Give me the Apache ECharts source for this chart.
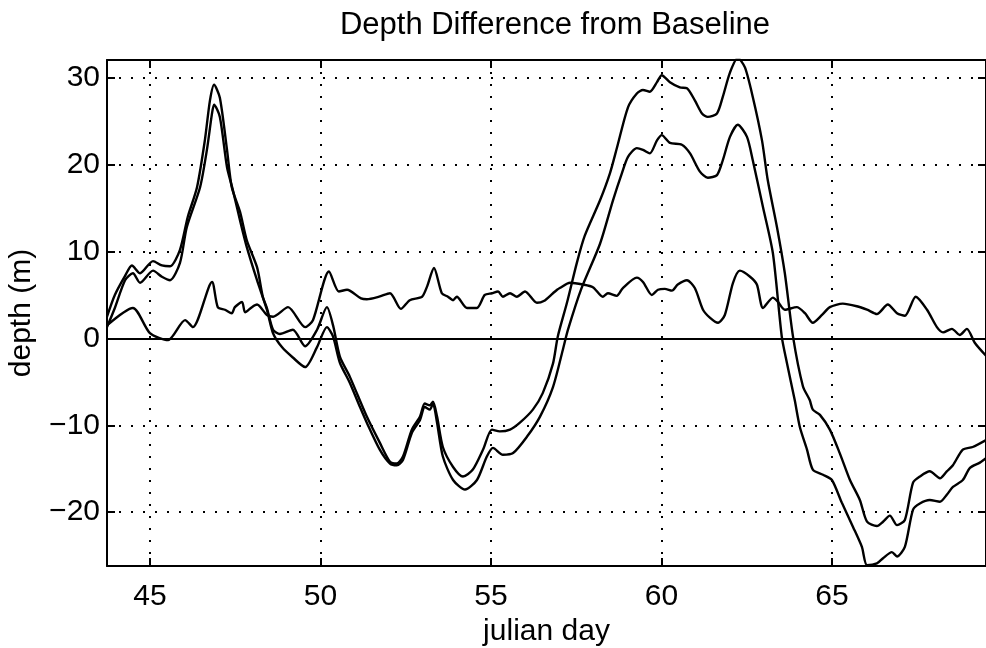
<!DOCTYPE html>
<html><head><meta charset="utf-8">
<script src="https://cdn.jsdelivr.net/npm/echarts@6/dist/echarts.min.js"></script>
<style>html,body{margin:0;padding:0;background:#fff}#c{width:986px;height:648px}</style>
</head><body><div id="c"></div>
<script>
// Series A (upper of the two large curves)
const dayA=[43.74,43.97,44.27,44.47,44.71,45.09,45.35,45.59,45.88,46.11,46.38,46.61,46.76,46.88,47.05,47.26,47.40,47.64,47.84,48.14,48.31,48.43,48.61,48.81,49.19,49.55,49.90,50.19,50.37,50.57,50.86,51.36,51.74,52.04,52.24,52.42,52.68,52.92,53.06,53.21,53.30,53.42,53.59,53.89,54.18,54.47,54.77,55.03,55.26,55.56,55.85,56.23,56.52,56.82,56.96,57.23,57.52,57.75,58.20,58.49,58.70,59.02,59.28,59.46,59.66,59.87,60.01,60.25,60.54,60.75,60.98,61.19,61.36,61.63,61.80,62.01,62.24,62.45,62.68,62.95,63.12,63.39,63.62,63.86,64.15,64.35,64.44,64.65,64.94,65.23,65.53,65.82,66.03,66.32,66.50,66.70,66.91,67.14,67.38,67.58,67.87,68.17,68.37,68.55,68.84,69.13,69.52];
const depthA=[2.5,5.0,7.2,8.4,7.5,8.9,8.4,8.3,10.2,14.0,17.4,22.8,27.4,29.2,27.7,21.7,17.4,14.6,11.3,8.2,4.8,3.5,1.0,0.5,1.0,-0.9,1.0,3.6,1.5,-2.1,-4.4,-9.0,-12.0,-14.2,-14.4,-13.6,-10.5,-9.0,-7.5,-7.7,-7.3,-9.0,-12.5,-14.8,-15.9,-15.1,-12.8,-10.5,-10.7,-10.5,-9.7,-8.2,-6.3,-2.9,0.2,4.1,8.7,11.8,15.9,19.0,22.0,26.6,28.2,28.6,28.4,29.5,30.3,29.5,28.9,28.8,27.4,25.9,25.5,25.9,27.8,30.6,32.3,31.2,27.8,22.8,18.2,12.8,7.5,0.2,-5.5,-7.1,-8.2,-8.8,-10.5,-13.2,-16.3,-18.6,-21.1,-21.6,-21.1,-20.4,-21.5,-20.9,-16.6,-15.9,-15.3,-16.1,-15.3,-14.6,-12.8,-12.5,-11.7];
// Series B (lower of the two large curves)
const dayB=[43.74,43.97,44.27,44.50,44.71,45.09,45.35,45.59,45.88,46.08,46.47,46.67,46.82,46.88,47.05,47.26,47.43,47.64,47.84,48.14,48.43,48.61,48.87,49.19,49.55,49.90,50.19,50.37,50.57,50.86,51.16,51.36,51.74,52.04,52.24,52.42,52.68,52.92,53.06,53.21,53.30,53.42,53.59,53.89,54.24,54.59,54.88,55.06,55.35,55.65,56.06,56.44,56.82,57.11,57.26,57.65,58.20,58.58,58.84,59.02,59.28,59.46,59.66,59.87,60.01,60.25,60.60,60.84,61.13,61.36,61.63,61.80,62.01,62.24,62.51,62.68,62.98,63.27,63.53,63.68,63.91,64.06,64.27,64.44,64.74,65.00,65.29,65.62,65.88,66.03,66.32,66.50,66.76,66.91,67.14,67.38,67.58,67.87,68.17,68.37,68.55,68.84,69.05,69.34,69.52];
const depthB=[1.3,3.5,6.7,7.5,6.4,7.8,7.1,6.7,8.7,12.8,17.4,21.7,25.9,26.9,25.5,19.7,17.1,13.6,10.5,6.7,3.3,0.6,-1.0,-2.2,-3.3,-1.0,1.3,0.2,-2.8,-5.1,-7.9,-9.7,-12.8,-14.4,-14.6,-14.0,-10.9,-9.4,-7.9,-8.2,-7.5,-9.7,-13.6,-16.3,-17.4,-16.3,-13.6,-12.6,-13.4,-13.2,-11.3,-9.0,-5.6,-1.3,1.0,5.7,10.9,15.9,19.0,20.9,21.9,21.7,21.3,22.8,23.4,22.5,22.3,21.3,19.2,18.5,18.8,20.5,23.2,24.6,23.2,20.5,15.1,9.8,0.2,-2.8,-7.1,-10.2,-12.8,-15.1,-15.7,-16.3,-18.9,-21.7,-24.0,-26.1,-25.9,-25.3,-24.6,-25.1,-24.0,-19.7,-19.0,-18.6,-18.8,-18.0,-17.1,-16.3,-14.9,-14.3,-13.8];
// Series C (small curve near zero)
const dayC=[43.74,44.50,45.00,45.53,46.03,46.26,46.82,46.99,47.20,47.40,47.49,47.70,47.79,47.99,48.14,48.43,48.61,49.05,49.55,49.78,50.25,50.54,50.78,51.19,51.36,51.72,52.04,52.36,52.62,52.98,53.12,53.33,53.56,53.74,53.89,54.00,54.30,54.59,54.82,55.03,55.21,55.35,55.56,55.76,56.00,56.35,56.55,56.82,56.94,57.02,57.32,57.70,57.99,58.28,58.43,58.69,58.87,59.28,59.46,59.72,59.90,60.10,60.31,60.48,60.75,60.98,61.22,61.42,61.66,61.86,62.10,62.30,62.60,62.80,62.98,63.27,63.42,63.62,63.97,64.21,64.44,64.71,64.94,65.32,65.73,66.03,66.32,66.64,66.91,67.14,67.46,67.79,68.08,68.26,68.52,68.75,68.96,69.19,69.52];
const depthC=[1.5,3.5,0.6,-0.2,2.1,1.3,6.5,3.6,3.3,2.9,3.6,4.2,3.0,3.6,3.9,2.7,2.5,3.6,1.3,2.1,7.7,5.4,5.6,4.6,4.5,4.8,5.2,3.4,4.4,4.8,5.9,8.1,5.2,4.8,4.4,4.8,3.5,3.5,5.0,5.2,5.4,4.8,5.2,4.8,5.4,4.1,4.3,5.2,5.6,5.8,6.4,6.2,5.9,4.8,5.2,4.9,5.8,7.0,6.5,5.0,5.6,5.7,5.5,6.2,6.7,5.8,3.3,2.4,1.8,2.7,6.4,7.8,7.1,6.2,3.5,4.7,4.2,3.3,3.6,2.9,1.8,2.7,3.6,4.0,3.7,3.3,2.8,3.9,2.9,2.6,4.8,3.3,1.3,0.7,1.1,0.4,1.1,-0.5,-2.0];
const xTicks=[45,50,55,60,65];
const yTicks=[-20,-10,0,10,20,30];
const xMin=43.74, xMax=69.52, yMin=-26.2, yMax=32.05;

const FONT="'Liberation Sans', Arial, Helvetica, sans-serif";
const zip=(xs,ys)=>xs.map((x,i)=>[x,ys[i]]);
const lineSeries=(name,xs,ys)=>({name,type:'line',data:zip(xs,ys),showSymbol:false,smooth:0.25,
  lineStyle:{color:'#000',width:2.4},itemStyle:{color:'#000'},z:3});

const grid={left:107,right:0,top:60,bottom:82,containLabel:false,outerBoundsMode:'none'};
const tickStyle={show:true,inside:true,length:8,lineStyle:{color:'#000',width:2}};
const chart=echarts.init(document.getElementById('c'),null,{renderer:'canvas'});
const cSeries=lineSeries('C',dayC,depthC);
cSeries.markLine={silent:true,symbol:'none',label:{show:false},
  lineStyle:{color:'#000',width:2,type:'solid'},data:[{yAxis:0}]};
chart.setOption({
  animation:false,
  backgroundColor:'#fff',
  title:{text:'Depth Difference from Baseline',left:550,top:5,textAlign:'center',
    textStyle:{fontFamily:FONT,fontSize:31,fontWeight:'normal',color:'#000'}},
  grid,
  xAxis:[{type:'value',min:xMin,max:xMax,position:'bottom',
    name:'julian day',nameLocation:'middle',nameGap:50,
    nameTextStyle:{fontFamily:FONT,fontSize:30,color:'#000'},
    axisLine:{show:true,onZero:false,lineStyle:{color:'#000',width:2}},
    axisTick:Object.assign({customValues:xTicks},tickStyle),
    axisLabel:{customValues:xTicks,fontFamily:FONT,fontSize:30,color:'#000',margin:16},
    splitLine:{show:true,lineStyle:{color:'#000',width:2,type:[2,10]}}},
   {type:'value',min:xMin,max:xMax,position:'top',
    axisLine:{show:true,onZero:false,lineStyle:{color:'#000',width:2}},
    axisTick:Object.assign({customValues:xTicks},tickStyle),
    axisLabel:{show:false},splitLine:{show:false}}],
  yAxis:[{type:'value',min:yMin,max:yMax,position:'left',
    name:'depth (m)',nameLocation:'middle',nameGap:70,nameRotate:90,
    nameTextStyle:{fontFamily:FONT,fontSize:30,color:'#000'},
    axisLine:{show:true,onZero:false,lineStyle:{color:'#000',width:2}},
    axisTick:Object.assign({customValues:yTicks},tickStyle),
    axisLabel:{customValues:yTicks,fontFamily:FONT,fontSize:30,color:'#000',margin:7,
      formatter:v=>String(v).replace('-','\u2212')},
    splitLine:{show:true,lineStyle:{color:'#000',width:2,type:[2,10]}}},
   {type:'value',min:yMin,max:yMax,position:'right',
    axisLine:{show:true,onZero:false,lineStyle:{color:'#000',width:2}},
    axisTick:Object.assign({customValues:yTicks},tickStyle),
    axisLabel:{show:false},splitLine:{show:false}}],
  series:[lineSeries('A',dayA,depthA),lineSeries('B',dayB,depthB),cSeries]
});
</script></body></html>
